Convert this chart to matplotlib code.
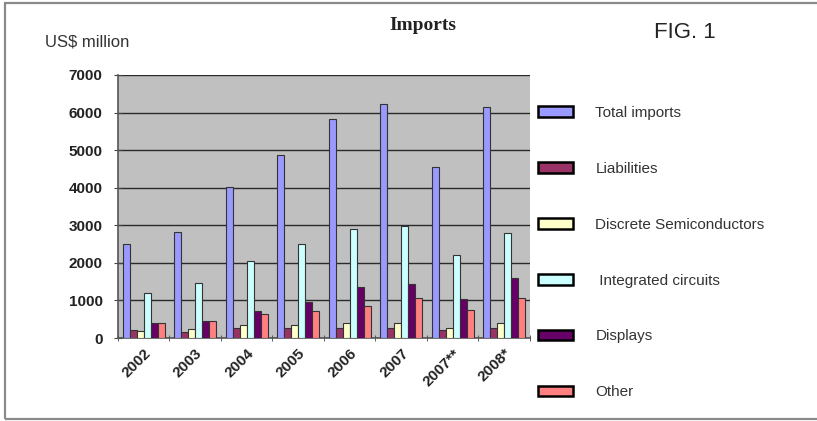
import matplotlib
matplotlib.use("Agg")
import matplotlib.pyplot as plt
from matplotlib.patches import Patch, Rectangle
import numpy as np

years = ["2002", "2003", "2004", "2005", "2006", "2007", "2007**", "2008*"]
series_names = ["Total imports", "Liabilities", "Discrete Semiconductors",
                " Integrated circuits", "Displays", "Other"]
total_imports = [2500, 2820, 4030, 4880, 5820, 6220, 4560, 6160]
liabilities = [200, 160, 270, 260, 275, 275, 215, 275]
discrete = [185, 240, 340, 350, 390, 390, 265, 410]
integrated = [1210, 1460, 2050, 2500, 2910, 2980, 2220, 2800]
displays = [400, 440, 720, 970, 1360, 1450, 1040, 1600]
other = [390, 460, 630, 720, 845, 1065, 755, 1065]
series_values = [total_imports, liabilities, discrete, integrated, displays, other]
colors = ["#9999FF", "#993366", "#FFFFCC", "#CCFFFF", "#660066", "#FF8080"]
yticks = [0, 1000, 2000, 3000, 4000, 5000, 6000, 7000]

W, H = 817, 421
fig = plt.figure(figsize=(W / 100, H / 100), dpi=100)
fig.patch.set_facecolor("white")

# outer border
fig.add_artist(Rectangle((5 / W, 2 / H), (W + 10) / W, (H - 5) / H, transform=fig.transFigure,
                         fill=False, edgecolor="#8a8a8a", lw=1.6, clip_on=False))

ax = fig.add_axes([118 / W, 1 - 338 / H, (530 - 118) / W, (338 - 75) / H])
ax.set_facecolor("#c0c0c0")

n = len(series_names)
x = np.arange(len(years))
bw = 0.81 / n
for i, (vals, c) in enumerate(zip(series_values, colors)):
    ax.bar(x - 0.405 + bw * (i + 0.5), vals, width=bw, color=c,
           edgecolor="#333333", linewidth=0.8, zorder=3)

ax.set_xlim(-0.5, len(years) - 0.5)
ax.set_ylim(0, 7000)
ax.set_yticks(yticks)
ax.set_yticklabels([str(v) for v in yticks], fontsize=11, fontweight="bold",
                   family="Liberation Sans", color="#222222")
ax.yaxis.grid(True, color="#2a2a2a", lw=1.0, zorder=1)
ax.set_axisbelow(True)

ax.set_xticks(x)
ax.set_xticklabels(years, rotation=45, ha="right", rotation_mode="anchor",
                   fontsize=11, fontweight="bold", family="Liberation Sans", color="#222222")
ax.set_xticks(np.arange(-0.5, len(years)), minor=True)
ax.tick_params(axis="x", which="major", length=0, pad=6)
ax.tick_params(axis="x", which="minor", length=5, direction="inout", color="#444444")
ax.tick_params(axis="y", length=6, direction="inout", color="#444444", pad=8)

for s in ["top", "right"]:
    ax.spines[s].set_visible(False)
for s in ["left", "bottom"]:
    ax.spines[s].set_color("#555555")
    ax.spines[s].set_linewidth(1.2)

# legend
handles = [Patch(facecolor=c, edgecolor="black", linewidth=1.8) for c in colors]
fig.legend(handles, series_names, loc="upper left",
           bbox_to_anchor=(538 / W, 1 - 106 / H), frameon=False,
           prop={"family": "Liberation Sans", "size": 11},
           labelspacing=2.74, handlelength=2.3, handleheight=0.7,
           handletextpad=1.45, borderpad=0, borderaxespad=0, labelcolor="#333333")

# texts
fig.text(423 / W, 1 - 25 / H, "Imports", ha="center", va="center",
         family="Liberation Serif", fontweight="bold", fontsize=14, color="#222222")
fig.text(45 / W, 1 - 42 / H, "US$ million", ha="left", va="center",
         family="Liberation Sans", fontsize=12, color="#333333")
fig.text(654 / W, 1 - 33 / H, "FIG. 1", ha="left", va="center",
         family=["Liberation Sans Narrow", "Liberation Sans"], fontsize=16, color="#222222")

fig.savefig("out.png", dpi=100)
